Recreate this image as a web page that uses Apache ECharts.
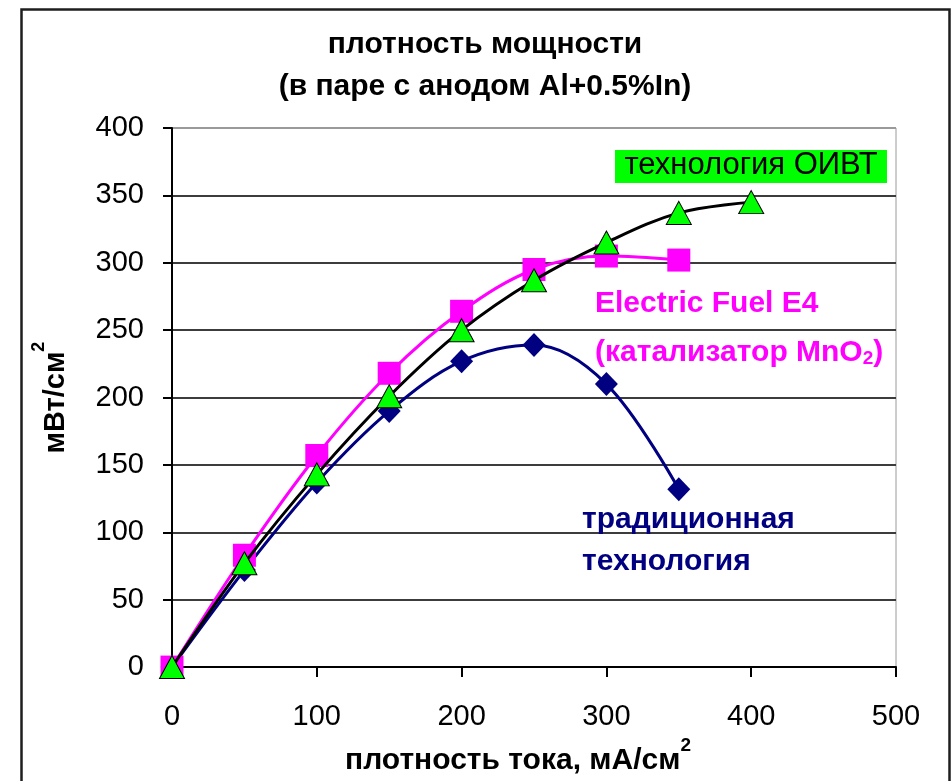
<!DOCTYPE html>
<html>
<head>
<meta charset="utf-8">
<script src="https://cdn.jsdelivr.net/npm/echarts@6/dist/echarts.min.js"></script>
<style>
  html, body { margin: 0; padding: 0; background: #fff; }
  #chart { width: 952px; height: 781px; }
</style>
</head>
<body>
<div id="chart"></div>
<script>
// Current density, mA/cm2
const currentDensity = [0, 50, 100, 150, 200, 250, 300, 350, 400];
// Power density, mW/cm2
const oivtPower = [0, 77, 143, 201, 250, 287, 315, 337, 345];
const electricFuelPower = [0, 83, 157, 218, 264, 295, 305, 302];
const traditionalPower = [0, 72, 137, 190, 227, 239, 210, 132];

const xTicks = [0, 100, 200, 300, 400, 500];
const yTicks = [0, 50, 100, 150, 200, 250, 300, 350, 400];

const FONT = "'Liberation Sans', Arial, sans-serif";

function pairs(values) {
  return values.map((v, i) => [currentDensity[i], v]);
}

// rich styles for axis names with a raised "2"
function supRich(baseSize, supSize) {
  return {
    n: { fontFamily: FONT, fontSize: baseSize, fontWeight: 'bold', color: '#000', lineHeight: 40, verticalAlign: 'bottom' },
    s: { fontFamily: FONT, fontSize: supSize, fontWeight: 'bold', color: '#000', lineHeight: supSize, verticalAlign: 'top' }
  };
}

const chart = echarts.init(document.getElementById('chart'), null, { renderer: 'canvas' });

const option = {
  backgroundColor: '#ffffff',
  animation: false,
  title: {
    text: 'плотность мощности\n(в паре с анодом Al+0.5%In)',
    left: 485,
    top: 24,
    textAlign: 'center',
    padding: 0,
    textStyle: {
      fontFamily: FONT,
      fontSize: 30,
      fontWeight: 'bold',
      color: '#000',
      lineHeight: 42
    }
  },
  grid: {
    left: 172,
    right: 56,
    top: 128,
    bottom: 112,
    show: true,
    borderColor: '#9a9a9a',
    borderWidth: 1,
    containLabel: false
  },
  xAxis: {
    type: 'value',
    min: xTicks[0],
    max: xTicks[xTicks.length - 1],
    interval: 100,
    name: '{n|плотность тока, мА/см}{s|2}',
    nameLocation: 'middle',
    nameGap: 56,
    nameTextStyle: {
      fontFamily: FONT,
      fontSize: 30,
      fontWeight: 'bold',
      color: '#000',
      padding: [0, 32, 0, 0],
      rich: supRich(30, 19)
    },
    axisLine: { show: true, lineStyle: { color: '#000', width: 2 } },
    axisTick: { show: true, length: 10, lineStyle: { color: '#000', width: 2 } },
    axisLabel: { fontFamily: FONT, fontSize: 29, color: '#000', margin: 35 },
    splitLine: { show: false }
  },
  yAxis: {
    type: 'value',
    min: yTicks[0],
    max: yTicks[yTicks.length - 1],
    interval: 50,
    name: '{n|мВт/см}{s|2}',
    nameLocation: 'middle',
    nameRotate: 90,
    nameGap: 102,
    nameTextStyle: {
      fontFamily: FONT,
      fontSize: 29,
      fontWeight: 'bold',
      color: '#000',
      rich: supRich(29, 18)
    },
    axisLine: { show: true, lineStyle: { color: '#000', width: 2 } },
    axisTick: { show: true, length: 9, lineStyle: { color: '#000', width: 2 } },
    axisLabel: { fontFamily: FONT, fontSize: 29, color: '#000', margin: 28 },
    splitLine: {
      show: true,
      lineStyle: {
        color: ['#000', '#3c3c3c', '#3c3c3c', '#3c3c3c', '#3c3c3c', '#3c3c3c', '#3c3c3c', '#3c3c3c', '#9a9a9a'],
        width: 2
      }
    }
  },
  series: [
    {
      name: 'традиционная технология',
      type: 'line',
      data: pairs(traditionalPower),
      smooth: 0.35,
      symbol: 'diamond',
      symbolSize: [23, 24],
      lineStyle: { color: '#000080', width: 3 },
      itemStyle: { color: '#000080' },
      z: 2
    },
    {
      name: 'Electric Fuel E4',
      type: 'line',
      data: pairs(electricFuelPower),
      smooth: 0.35,
      symbol: 'rect',
      symbolSize: 23,
      lineStyle: { color: '#ff00ff', width: 3 },
      itemStyle: { color: '#ff00ff' },
      z: 3
    },
    {
      name: 'технология ОИВТ',
      type: 'line',
      data: pairs(oivtPower),
      smooth: 0.35,
      symbol: 'triangle',
      symbolSize: [25, 23],
      lineStyle: { color: '#000', width: 3 },
      itemStyle: { color: '#00ff00', borderColor: '#000', borderWidth: 1 },
      z: 4
    }
  ],
  graphic: [
    // outer frame of the chart
    {
      type: 'rect',
      left: 19, top: 7,
      shape: { width: 928, height: 800 },
      style: { fill: 'none', stroke: '#1e1e1e', lineWidth: 2.5 },
      silent: true, z: 0
    },
    // series captions
    {
      type: 'rect',
      left: 615, top: 150,
      shape: { width: 272, height: 33 },
      style: { fill: '#00ff00' },
      z: 10
    },
    {
      type: 'text',
      x: 751, y: 165,
      style: {
        text: 'технология ОИВТ',
        font: "31px " + FONT,
        fill: '#000',
        align: 'center',
        verticalAlign: 'middle'
      },
      z: 11
    },
    {
      type: 'text',
      x: 595, y: 304,
      style: {
        text: 'Electric Fuel E4',
        font: "bold 30px " + FONT,
        fill: '#ff00ff',
        align: 'left',
        verticalAlign: 'middle'
      },
      z: 11
    },
    {
      type: 'text',
      x: 595, y: 353,
      style: {
        text: '{a|(катализатор MnO}{b|2}{a|)}',
        align: 'left',
        verticalAlign: 'middle',
        rich: {
          a: { fontFamily: FONT, fontSize: 30, fontWeight: 'bold', fill: '#ff00ff', color: '#ff00ff', verticalAlign: 'bottom' },
          b: { fontFamily: FONT, fontSize: 19, fontWeight: 'bold', fill: '#ff00ff', color: '#ff00ff', verticalAlign: 'bottom' }
        }
      },
      z: 11
    },
    {
      type: 'text',
      x: 582, y: 541,
      style: {
        text: 'традиционная\nтехнология',
        font: "bold 30px " + FONT,
        fill: '#000080',
        align: 'left',
        verticalAlign: 'middle',
        lineHeight: 42
      },
      z: 11
    }
  ]
};

chart.setOption(option);
</script>
</body>
</html>
